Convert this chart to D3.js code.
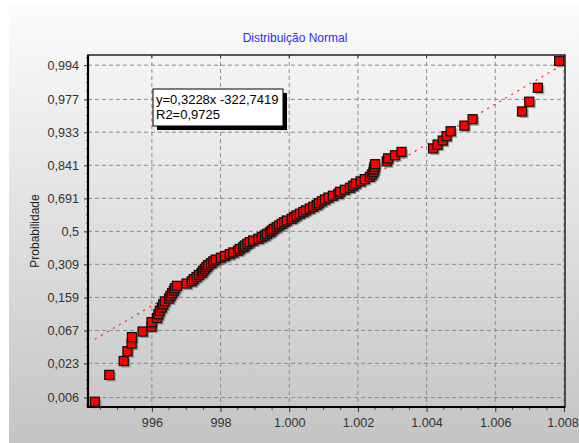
<!DOCTYPE html>
<html><head><meta charset="utf-8">
<script src="https://cdn.jsdelivr.net/npm/d3@7"></script>
<style>body{margin:0;background:#fff}svg{display:block}</style>
</head><body><svg id="c" width="579" height="443"></svg>
<script>
// ---------- data ----------
const chartTitle = "Distribuição Normal";
const yAxisTitle = "Probabilidade";
// sorted observations (normal probability plot, n = 100)
const xValues = [
 994.34, 994.76, 995.18, 995.29, 995.41, 995.42, 995.73, 995.99, 995.99, 996.15,
 996.19, 996.23, 996.29, 996.33, 996.38, 996.50, 996.54, 996.59, 996.64, 996.67,
 996.73, 997.01, 997.16, 997.22, 997.30, 997.37, 997.45, 997.49, 997.54, 997.59,
 997.64, 997.72, 997.79, 997.86, 998.01, 998.13, 998.27, 998.37, 998.51, 998.56,
 998.66, 998.71, 998.78, 998.85, 998.95, 999.10, 999.20, 999.29, 999.35, 999.44,
 999.49, 999.55, 999.63, 999.70, 999.78, 999.85, 999.93, 1000.07, 1000.14, 1000.21,
 1000.31, 1000.41, 1000.49, 1000.60, 1000.70, 1000.80, 1000.86, 1000.95, 1001.04, 1001.14,
 1001.27, 1001.43, 1001.48, 1001.62, 1001.77, 1001.86, 1001.94, 1002.08, 1002.20, 1002.35,
 1002.41, 1002.45, 1002.47, 1002.48, 1002.50, 1002.84, 1002.88, 1003.08, 1003.27, 1004.19,
 1004.32, 1004.47, 1004.58, 1004.70, 1005.10, 1005.34, 1006.78, 1006.99, 1007.24, 1007.86
];
const xTickValues = [996, 998, 1000, 1002, 1004, 1006, 1008];
const xTickLabels = ["996", "998", "1.000", "1.002", "1.004", "1.006", "1.008"];
const yTickProbs  = [0.006, 0.023, 0.067, 0.159, 0.309, 0.5, 0.691, 0.841, 0.933, 0.977, 0.994];
const yTickLabels = ["0,006", "0,023", "0,067", "0,159", "0,309", "0,5", "0,691", "0,841", "0,933", "0,977", "0,994"];
const trendX = [994.34, 1007.86];
const trendZ = [-1.63, 2.49];
const equationLines = ["y=0,3228x -322,7419", "R2=0,9725"];
const xDomain = [994.14, 1008.03];
const zDomain = [-2.655, 2.666];

// ---------- helpers ----------
function invNorm(p) {
  const a = [-3.969683028665376e+01, 2.209460984245205e+02, -2.759285104469687e+02, 1.383577518672690e+02, -3.066479806614716e+01, 2.506628277459239e+00];
  const b = [-5.447609879822406e+01, 1.615858368580409e+02, -1.556989798598866e+02, 6.680131188771972e+01, -1.328068155288572e+01];
  const c = [-7.784894002430293e-03, -3.223964580411365e-01, -2.400758277161838e+00, -2.549732539343734e+00, 4.374664141464968e+00, 2.938163982698783e+00];
  const d = [7.784695709041462e-03, 3.224671290700398e-01, 2.445134137142996e+00, 3.754408661907416e+00];
  const pl = 0.02425, ph = 1 - pl;
  let q, r;
  if (p < pl) { q = Math.sqrt(-2 * Math.log(p));
    return (((((c[0]*q+c[1])*q+c[2])*q+c[3])*q+c[4])*q+c[5]) / ((((d[0]*q+d[1])*q+d[2])*q+d[3])*q+1); }
  if (p <= ph) { q = p - 0.5; r = q*q;
    return (((((a[0]*r+a[1])*r+a[2])*r+a[3])*r+a[4])*r+a[5])*q / (((((b[0]*r+b[1])*r+b[2])*r+b[3])*r+b[4])*r+1); }
  q = Math.sqrt(-2 * Math.log(1 - p));
  return -(((((c[0]*q+c[1])*q+c[2])*q+c[3])*q+c[4])*q+c[5]) / ((((d[0]*q+d[1])*q+d[2])*q+d[3])*q+1);
}

// ---------- layout ----------
const W = 579, H = 443;
const L = 88, R = 565, T = 55, B = 407;
const font = "'Liberation Sans', Arial, sans-serif";
const svg = d3.select("#c");

const defs = svg.append("defs");
const grad = defs.append("linearGradient").attr("id", "bg").attr("x1", 0).attr("y1", 0).attr("x2", 0).attr("y2", 1);
grad.append("stop").attr("offset", "0%").attr("stop-color", "#fcfcfc");
grad.append("stop").attr("offset", "100%").attr("stop-color", "#c4c4c4");

svg.append("rect").attr("x", 9).attr("y", 3).attr("width", W - 9).attr("height", H - 3).attr("fill", "url(#bg)");

const x = d3.scaleLinear().domain(xDomain).range([L, R]);
const y = d3.scaleLinear().domain(zDomain).range([B, T]);

// title
svg.append("text").attr("x", 295).attr("y", 42).attr("text-anchor", "middle")
  .attr("font-family", font).attr("font-size", 12).attr("fill", "#2b2bff").text(chartTitle);

// grid
const g = svg.append("g");
g.selectAll(".vg").data(xTickValues).join("line")
  .attr("x1", d => x(d)).attr("x2", d => x(d)).attr("y1", T).attr("y2", B)
  .attr("stroke", "#8c8c8c").attr("stroke-width", 1).attr("stroke-dasharray", "4,3");
g.selectAll(".hg").data(yTickProbs).join("line")
  .attr("x1", L).attr("x2", R).attr("y1", d => y(invNorm(d))).attr("y2", d => y(invNorm(d)))
  .attr("stroke", "#8c8c8c").attr("stroke-width", 1).attr("stroke-dasharray", "4,3");

// minor ticks
const xMinor = d3.range(994.5, 1008.01, 0.5).filter(v => Math.abs(v / 2 - Math.round(v / 2)) > 1e-6);
const zMinor = d3.range(-2.625, 2.66, 0.125).filter(v => Math.abs(v * 2 - Math.round(v * 2)) > 1e-6);

// axes via d3
const xAxis = d3.axisBottom(x).tickValues(xTickValues).tickFormat((d, i) => xTickLabels[i]).tickSize(5).tickPadding(6);
const gx = svg.append("g").attr("transform", `translate(0,${B})`).call(xAxis);
gx.select(".domain").remove();
gx.selectAll("line").attr("stroke", "#333");
gx.selectAll("text").attr("font-family", font).attr("font-size", 12.6).attr("fill", "#333");
gx.selectAll(".tick:last-of-type text").attr("dx", -1.5);
gx.selectAll(".minor").data(xMinor).join("line").attr("x1", d => x(d)).attr("x2", d => x(d))
  .attr("y1", 0).attr("y2", 3).attr("stroke", "#555");

const yAxis = d3.axisLeft(y).tickValues(yTickProbs.map(invNorm)).tickFormat((d, i) => yTickLabels[i]).tickSize(4).tickPadding(5);
const gy = svg.append("g").attr("transform", `translate(${L},0)`).call(yAxis);
gy.select(".domain").remove();
gy.selectAll("line").attr("stroke", "#333");
gy.selectAll("text").attr("font-family", font).attr("font-size", 12.6).attr("fill", "#333");
gy.selectAll(".minor").data(zMinor).join("line").attr("y1", d => y(d)).attr("y2", d => y(d))
  .attr("x1", 0).attr("x2", -2).attr("stroke", "#555");

// top ticks
svg.selectAll(".tt").data(xTickValues).join("line")
  .attr("x1", d => x(d)).attr("x2", d => x(d)).attr("y1", T).attr("y2", T + 3).attr("stroke", "#333");

// y title
svg.append("text").attr("transform", `translate(39,${(T + B) / 2}) rotate(-90)`)
  .attr("text-anchor", "middle").attr("font-family", font).attr("font-size", 12).attr("fill", "#222").text(yAxisTitle);

// frame
svg.append("rect").attr("x", L).attr("y", T).attr("width", R - L).attr("height", B - T)
  .attr("fill", "none").attr("stroke", "#222").attr("stroke-width", 1.5);
svg.append("path").attr("d", `M${L},${T}V${B}H${R}`).attr("fill", "none").attr("stroke", "#000").attr("stroke-width", 2.2);

// trend line
svg.append("line").attr("x1", x(trendX[0])).attr("y1", y(trendZ[0]))
  .attr("x2", x(trendX[1])).attr("y2", y(trendZ[1]))
  .attr("stroke", "#ff2020").attr("stroke-width", 1.2).attr("stroke-dasharray", "2,5");

// points (Hazen plotting positions)
const n = xValues.length;
const pts = xValues.map((v, i) => ({ v, z: invNorm((i + 0.5) / n) }));
const s = 9;
const pg = svg.append("g");
pts.forEach(p => {
  pg.append("rect").attr("x", x(p.v) - s / 2 + 2).attr("y", y(p.z) - s / 2 + 2).attr("width", s).attr("height", s)
    .attr("fill", "#333").attr("opacity", 0.4);
  pg.append("rect").attr("x", x(p.v) - s / 2).attr("y", y(p.z) - s / 2).attr("width", s).attr("height", s)
    .attr("fill", "#ff0000").attr("stroke", "#111").attr("stroke-width", 1.3);
});

// equation box
const bx = 153, by = 89, bw = 130, bh = 37;
svg.append("rect").attr("x", bx + 4).attr("y", by + 4).attr("width", bw).attr("height", bh).attr("fill", "#000");
svg.append("rect").attr("x", bx).attr("y", by).attr("width", bw).attr("height", bh).attr("fill", "#fff").attr("stroke", "#000").attr("stroke-width", 1);
svg.selectAll(".eq").data(equationLines).join("text")
  .attr("x", bx + 3).attr("y", (d, i) => by + 15 + i * 15)
  .attr("font-family", font).attr("font-size", 13).attr("fill", "#000").text(d => d);
</script></body></html>
